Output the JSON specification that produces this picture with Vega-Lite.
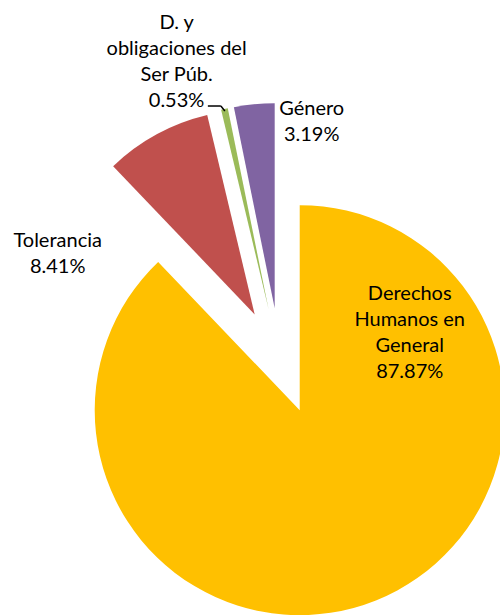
{
  "$schema": "https://vega.github.io/schema/vega-lite/v6.json",
  "width": 500,
  "height": 615,
  "autosize": {"type": "none"},
  "padding": 0,
  "background": "white",
  "config": {"view": {"stroke": null}},
  "data": {
    "values": [
      {"categoria": "Derechos Humanos en General", "etiqueta": "Derechos\nHumanos en\nGeneral", "pct": 87.87},
      {"categoria": "Tolerancia", "etiqueta": "Tolerancia", "pct": 8.41},
      {"categoria": "D. y obligaciones del Ser Púb.", "etiqueta": "D. y\nobligaciones del\nSer Púb.", "pct": 0.53},
      {"categoria": "Género", "etiqueta": "Género", "pct": 3.19}
    ]
  },
  "transform": [
    {"window": [{"op": "sum", "field": "pct", "as": "fin"}], "frame": [null, 0]},
    {"calculate": "datum.fin - datum.pct", "as": "inicio"},
    {"calculate": "(datum.inicio + datum.pct / 2) / 100 * 2 * PI", "as": "medio"},
    {"calculate": "sin(datum.medio) * 53", "as": "ex"},
    {"calculate": "cos(datum.medio) * 53", "as": "ey"},
    {"calculate": "datum.etiqueta + '\\n' + format(datum.pct, '.2f') + '%'", "as": "texto"}
  ],
  "encoding": {
    "x": {"field": "ex", "type": "quantitative", "scale": {"domain": [-280, 220], "nice": false, "zero": false}, "axis": null},
    "y": {"field": "ey", "type": "quantitative", "scale": {"domain": [-254, 361], "nice": false, "zero": false}, "axis": null}
  },
  "layer": [
    {
      "mark": {"type": "arc", "radius": 205},
      "encoding": {
        "theta": {"field": "inicio", "type": "quantitative", "scale": {"domain": [0, 100]}},
        "theta2": {"field": "fin"},
        "color": {
          "field": "categoria",
          "type": "nominal",
          "scale": {
            "domain": ["Derechos Humanos en General", "Tolerancia", "D. y obligaciones del Ser Púb.", "Género"],
            "range": ["#FFC000", "#C0504D", "#9BBB59", "#8064A2"]
          },
          "legend": null
        }
      }
    },
    {
      "transform": [
        {"filter": "datum.categoria === 'D. y obligaciones del Ser Púb.'"},
        {"calculate": "datum.ex + sin(datum.medio) * 203", "as": "lx"},
        {"calculate": "datum.ey + cos(datum.medio) * 203", "as": "ly"},
        {"calculate": "datum.lx - 4", "as": "kx"},
        {"calculate": "datum.ly + 5", "as": "ky"}
      ],
      "mark": {"type": "rule", "color": "black", "strokeWidth": 1.5},
      "encoding": {
        "x": {"field": "lx", "type": "quantitative"},
        "y": {"field": "ly", "type": "quantitative"},
        "x2": {"field": "kx"},
        "y2": {"field": "ky"}
      }
    },
    {
      "transform": [
        {"filter": "datum.categoria === 'D. y obligaciones del Ser Púb.'"},
        {"calculate": "datum.ex + sin(datum.medio) * 203", "as": "lx"},
        {"calculate": "datum.ey + cos(datum.medio) * 203", "as": "ly"},
        {"calculate": "datum.lx - 4", "as": "kx"},
        {"calculate": "datum.ly + 5", "as": "ky"},
        {"calculate": "datum.lx - 17", "as": "tx"}
      ],
      "mark": {"type": "rule", "color": "black", "strokeWidth": 1.5},
      "encoding": {
        "x": {"field": "kx", "type": "quantitative"},
        "y": {"field": "ky", "type": "quantitative"},
        "x2": {"field": "tx"},
        "y2": {"field": "ky"}
      }
    },
    {
      "transform": [{"filter": "datum.categoria === 'Derechos Humanos en General'"}],
      "mark": {"type": "text", "font": "Lato", "fontSize": 20, "lineHeight": 26, "lineBreak": "\n", "align": "center", "baseline": "alphabetic", "color": "black", "dx": 110, "dy": -110},
      "encoding": {"text": {"field": "texto", "type": "nominal"}}
    },
    {
      "transform": [{"filter": "datum.categoria === 'Tolerancia'"}],
      "mark": {"type": "text", "font": "Lato", "fontSize": 20, "lineHeight": 26, "lineBreak": "\n", "align": "center", "baseline": "alphabetic", "color": "black", "dx": -197, "dy": -67},
      "encoding": {"text": {"field": "texto", "type": "nominal"}}
    },
    {
      "transform": [{"filter": "datum.categoria === 'D. y obligaciones del Ser Púb.'"}],
      "mark": {"type": "text", "font": "Lato", "fontSize": 20, "lineHeight": 26, "lineBreak": "\n", "align": "center", "baseline": "alphabetic", "color": "black", "dx": -92, "dy": -280},
      "encoding": {"text": {"field": "texto", "type": "nominal"}}
    },
    {
      "transform": [{"filter": "datum.categoria === 'Género'"}],
      "mark": {"type": "text", "font": "Lato", "fontSize": 20, "lineHeight": 26, "lineBreak": "\n", "align": "center", "baseline": "alphabetic", "color": "black", "dx": 37, "dy": -193},
      "encoding": {"text": {"field": "texto", "type": "nominal"}}
    }
  ]
}
